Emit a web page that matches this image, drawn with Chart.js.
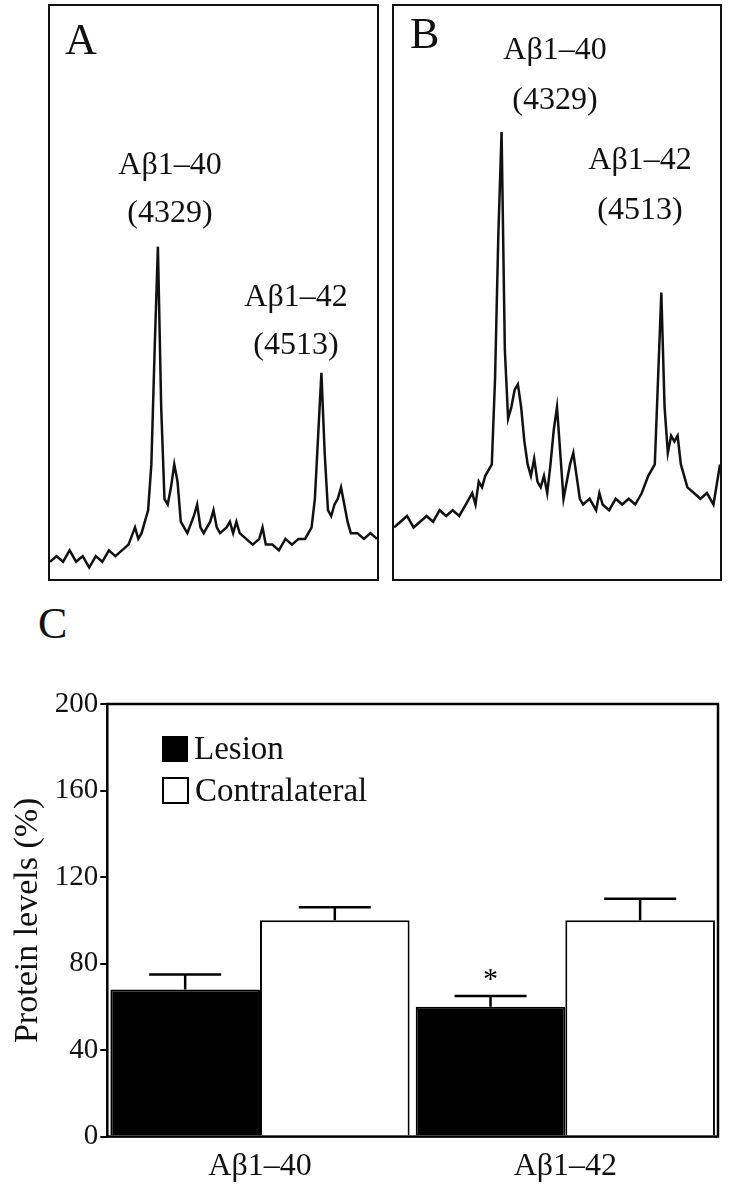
<!DOCTYPE html>
<html><head><meta charset="utf-8">
<script src="https://cdn.jsdelivr.net/npm/chart.js@4/dist/chart.umd.min.js"></script>
<style>
body{margin:0;background:#fff;width:732px;height:1199px;position:relative;font-family:"Liberation Serif",serif;overflow:hidden}
.box{position:absolute;border:2px solid #111;box-sizing:border-box}
.t{position:absolute;font-size:32px;color:#111;white-space:nowrap;transform:translateX(-50%)}
.L{position:absolute;font-size:44px;color:#111}
</style></head><body>
<div class="box" style="left:48px;top:4px;width:331px;height:577px"><canvas id="a"></canvas></div>
<div class="box" style="left:392px;top:4px;width:330px;height:577px"><canvas id="b"></canvas></div>
<div class="L" style="left:65px;top:14px">A</div>
<div class="L" style="left:410px;top:8px">B</div>
<div class="t" style="left:170px;top:145px">Aβ1–40</div>
<div class="t" style="left:170px;top:193px">(4329)</div>
<div class="t" style="left:296px;top:277px">Aβ1–42</div>
<div class="t" style="left:296px;top:325px">(4513)</div>
<div class="t" style="left:555px;top:30px">Aβ1–40</div>
<div class="t" style="left:555px;top:80px">(4329)</div>
<div class="t" style="left:640px;top:140px">Aβ1–42</div>
<div class="t" style="left:640px;top:190px">(4513)</div>
<div class="L" style="left:38px;top:598px">C</div>
<div style="position:absolute;left:0;top:680px;width:732px;height:519px"><canvas id="c"></canvas></div>
<div style="position:absolute;left:162px;top:730px;font-size:33px;color:#111"><span style="display:inline-block;width:26px;height:26px;background:#000;vertical-align:-3px;margin-right:6px"></span>Lesion</div>
<div style="position:absolute;left:162px;top:772px;font-size:33px;color:#111"><span style="display:inline-block;width:23px;height:23px;border:2px solid #000;vertical-align:-3px;margin-right:6px"></span>Contralateral</div>
<script>
const specA=[[0,3],[2,4],[4,3],[6,5],[8,3],[10,4],[12,2],[14,4],[16,3],[18,5],[20,4],[22,5],[24,6],[26,9],[27,7],[28,8],[30,12],[31,20],[32,40],[33,58],[34,30],[35,14],[36,13],[37,16],[38,20],[39,17],[40,10],[41,9],[42,8],[44,11],[45,13],[46,9],[47,8],[48,9],[49,10],[50,12],[51,9],[52,8],[54,9],[55,10],[56,8],[57,10],[58,8],[60,7],[62,6],[64,7],[65,9],[66,6],[68,6],[70,5],[72,7],[74,6],[76,7],[78,7],[80,9],[81,14],[82,25],[83,36],[84,22],[85,12],[86,11],[87,13],[88,14],[89,16],[90,13],[91,10],[92,8],[94,8],[96,7],[98,8],[100,7]];
const specB=[[0,9],[2,10],[4,11],[6,9],[8,10],[10,11],[12,10],[14,12],[16,11],[18,12],[20,11],[22,13],[24,15],[25,13],[26,17],[27,16],[28,18],[30,20],[31,35],[32,60],[33,78],[34,40],[35,28],[36,30],[37,33],[38,34],[39,30],[40,24],[41,20],[42,18],[43,21],[44,17],[45,16],[46,18],[47,15],[48,20],[49,26],[50,30],[51,22],[52,14],[53,17],[54,20],[55,22],[56,18],[57,14],[58,13],[60,14],[62,12],[63,15],[64,13],[66,12],[68,14],[70,13],[72,14],[74,13],[76,15],[78,18],[80,20],[81,35],[82,50],[83,30],[84,22],[85,25],[86,24],[87,25],[88,20],[90,16],[92,15],[94,14],[96,15],[98,13],[100,20]];
const categories=["Aβ1–40","Aβ1–42"];
const lesion=[68,60], lesionErr=[7,5];
const contra=[100,100], contraErr=[6,10];
const yTicks=[0,40,80,120,160,200];

function spec(id,d){
  new Chart(document.getElementById(id),{type:'line',
    data:{datasets:[{data:d.map(p=>({x:p[0],y:p[1]})),borderColor:'#111',borderWidth:2.5,pointRadius:0,tension:0}]},
    options:{responsive:true,maintainAspectRatio:false,animation:false,
      plugins:{legend:{display:false},tooltip:{enabled:false}},layout:{padding:0},
      scales:{x:{type:'linear',min:0,max:100,display:false},y:{min:0,max:100,display:false}}}});
}
spec('a',specA);spec('b',specB);

const deco={id:'deco',afterDatasetsDraw(ch){
  const c=ch.ctx,a=ch.chartArea,x=ch.scales.x,y=ch.scales.y;
  c.save();c.strokeStyle='#000';c.lineWidth=2.5;
  c.strokeRect(a.left,a.top,a.right-a.left,a.bottom-a.top);
  [[0,lesion,lesionErr],[1,contra,contraErr]].forEach(([di,v,e])=>{
    ch.getDatasetMeta(di).data.forEach((bar,i)=>{
      const yt=y.getPixelForValue(v[i]+e[i]);
      c.beginPath();c.moveTo(bar.x,bar.y);c.lineTo(bar.x,yt);
      c.moveTo(bar.x-36,yt);c.lineTo(bar.x+36,yt);c.stroke();
    });
  });
  const b=ch.getDatasetMeta(0).data[1];
  c.fillStyle='#000';c.font='30px "Liberation Serif"';c.textAlign='center';
  c.fillText('*',b.x,y.getPixelForValue(lesion[1]+lesionErr[1])-8);
  c.restore();
}};
new Chart(document.getElementById('c'),{type:'bar',
  data:{labels:categories,datasets:[
    {label:'Lesion',data:lesion,backgroundColor:'#000',borderColor:'#000',borderWidth:2},
    {label:'Contralateral',data:contra,backgroundColor:'#fff',borderColor:'#000',borderWidth:2}]},
  options:{responsive:true,maintainAspectRatio:false,animation:false,
    layout:{padding:{top:24,right:14,left:4,bottom:10}},
    datasets:{bar:{barPercentage:1,categoryPercentage:0.98}},
    plugins:{legend:{display:false},tooltip:{enabled:false}},
    scales:{
      x:{grid:{display:false},border:{display:false},ticks:{color:'#111',font:{family:'Liberation Serif',size:32}}},
      y:{min:0,max:200,afterBuildTicks(s){s.ticks=yTicks.map(v=>({value:v}));},
        grid:{display:true,drawOnChartArea:false,drawTicks:true,tickLength:7,color:'#000',lineWidth:2},border:{display:false},
        ticks:{color:'#111',padding:2,font:{family:'Liberation Serif',size:29}},
        title:{display:true,text:'Protein levels (%)',color:'#111',font:{family:'Liberation Serif',size:34}}}}},
  plugins:[deco]});
</script></body></html>
